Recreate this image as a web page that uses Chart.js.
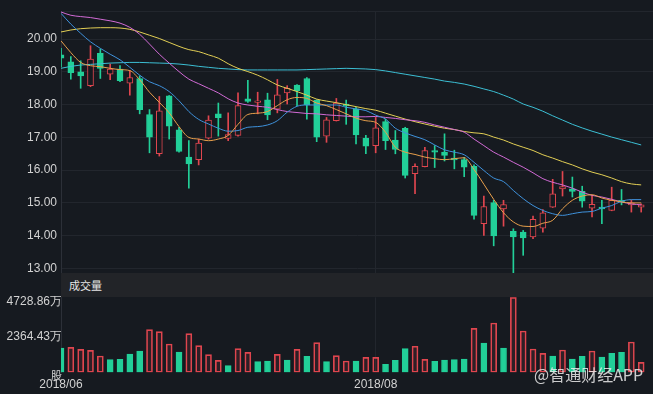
<!DOCTYPE html>
<html><head><meta charset="utf-8">
<script src="https://cdn.jsdelivr.net/npm/chart.js@4/dist/chart.umd.min.js"></script>
<style>
html,body{margin:0;padding:0;background:#161a20;width:653px;height:394px;overflow:hidden}
#main{position:absolute;left:0;top:0}
#vol{position:absolute;left:0;top:273px}
#band{position:absolute;left:61px;top:273px;width:592px;height:24px;background:#222428;color:#e6e6e6;font:11px 'Noto Sans CJK SC',sans-serif;line-height:24px;padding-left:8px;box-sizing:border-box}
#unit{position:absolute;left:50px;top:367px;width:12px;color:#d4d4d4;font:11px 'Noto Sans CJK SC',sans-serif;text-align:right}
#wm{position:absolute;left:534px;top:362px;color:rgba(236,236,236,0.85);font:16px 'Noto Sans CJK SC',sans-serif;z-index:5}
</style></head>
<body>
<canvas id="main" width="653" height="273"></canvas>
<canvas id="vol" width="653" height="121"></canvas>
<div id="band">成交量</div>
<div id="unit">股</div>
<div id="wm">@智通财经APP</div>
<script>
const dates = ['06-15','06-19','06-20','06-21','06-22','06-25','06-26','06-27','06-28','06-29',
 '07-02','07-03','07-04','07-05','07-06','07-09','07-10','07-11','07-12','07-13',
 '07-16','07-17','07-18','07-19','07-20','07-23','07-24','07-25','07-26','07-27',
 '07-30','07-31','08-01','08-02','08-03','08-06','08-07','08-08','08-09','08-10',
 '08-13','08-14','08-15','08-16','08-17','08-20','08-21','08-22','08-23','08-24',
 '08-27','08-28','08-29','08-30','08-31','09-03','09-04','09-05','09-06','09-07'];
const tickIdx = [0, 32];
const tickLabels = ['2018/06', '2018/08'];
const priceTicks = [13, 14, 15, 16, 17, 18, 19, 20];
const volTicks = [2364.43, 4728.86];

const open  = [19.52,19.31,19.00,18.58,19.57,18.93,19.09,18.66,18.80,17.70,16.50,18.27,17.23,16.40,16.32,16.98,17.72,16.97,17.06,18.18,
               18.07,18.15,17.86,18.36,18.60,18.80,18.14,17.04,17.51,18.02,17.87,16.98,16.75,17.48,16.92,17.28,15.89,16.11,16.60,16.55,
               16.37,16.32,16.12,14.37,15.01,14.82,14.13,14.11,13.96,14.23,14.87,15.43,15.43,15.35,14.84,14.87,14.77,15.08,14.94,14.87];
const high  = [19.72,19.47,19.34,19.80,19.70,19.24,19.19,19.04,18.88,17.85,18.25,18.28,17.31,16.90,16.95,17.66,18.05,17.75,18.36,18.74,
               18.38,18.35,18.77,18.58,18.61,18.83,18.15,17.61,18.19,18.14,17.92,17.06,17.61,17.56,17.21,17.31,16.19,16.70,16.75,17.11,
               16.61,16.39,16.16,15.21,15.08,15.08,14.21,14.16,14.60,14.80,15.72,15.96,15.79,15.51,15.23,15.08,15.48,15.41,15.09,14.97];
const low   = [19.15,18.78,18.50,18.55,18.80,18.76,18.70,18.29,17.72,16.53,16.43,16.95,16.55,15.45,16.16,16.95,17.04,16.90,17.04,18.07,
               17.72,17.54,17.75,18.02,17.97,17.56,16.87,16.85,17.50,17.40,16.80,16.50,16.53,16.63,16.50,15.76,15.28,16.10,16.08,16.28,
               16.04,15.80,14.50,14.01,13.69,14.29,12.87,13.40,13.91,14.11,14.86,15.21,15.18,14.87,14.57,14.37,14.76,14.94,14.72,14.72];
const close = [19.42,18.98,18.88,19.39,19.11,19.09,18.73,18.83,17.85,17.01,17.81,17.34,16.57,16.19,16.83,17.53,17.60,17.09,17.97,18.10,
               18.12,17.69,18.30,18.50,18.43,17.99,17.01,17.54,18.05,17.97,17.08,16.73,17.29,16.90,16.63,15.84,16.12,16.60,16.55,16.45,
               16.31,16.09,14.62,14.89,13.99,14.95,13.96,13.93,14.50,14.70,15.28,15.50,15.35,15.05,14.96,14.82,15.08,15.03,15.00,14.94];

const ma5  = [19.95,19.59,19.29,19.19,19.16,19.11,19.07,19.04,18.76,18.38,18.07,17.75,17.33,17.00,16.95,16.90,16.95,17.06,17.40,17.70,
              17.74,17.79,17.97,18.15,18.22,18.19,18.05,17.97,17.85,17.72,17.59,17.51,17.46,17.16,16.70,16.55,16.48,16.40,16.35,16.32,
              16.35,16.38,16.02,15.57,15.11,14.70,14.42,14.29,14.28,14.38,14.47,14.82,15.08,15.21,15.25,15.15,15.08,15.03,15.00,15.00];
const ma10 = [20.79,20.46,20.18,19.92,19.72,19.54,19.37,19.14,18.90,18.70,18.58,18.40,18.12,17.79,17.55,17.41,17.28,17.19,17.21,17.31,
              17.33,17.38,17.51,17.77,17.95,17.99,17.99,17.99,17.99,17.92,17.87,17.82,17.68,17.56,17.28,17.14,17.03,16.93,16.77,16.62,
              16.55,16.47,16.24,15.99,15.76,15.65,15.38,15.13,14.92,14.77,14.67,14.62,14.67,14.72,14.74,14.84,14.92,15.05,15.10,15.10];
const ma20 = [20.83,20.73,20.69,20.66,20.61,20.56,20.49,20.36,20.15,19.85,19.54,19.27,19.01,18.78,18.64,18.50,18.36,18.18,18.05,17.99,
              17.95,17.92,17.85,17.79,17.76,17.73,17.72,17.69,17.67,17.65,17.63,17.63,17.64,17.61,17.58,17.54,17.51,17.46,17.38,17.31,
              17.24,17.16,16.95,16.75,16.55,16.40,16.24,16.09,15.92,15.74,15.63,15.55,15.45,15.33,15.23,15.18,15.11,15.03,14.97,14.94];
const ma30 = [20.22,20.28,20.32,20.34,20.35,20.35,20.34,20.30,20.22,20.12,20.02,19.90,19.78,19.68,19.62,19.52,19.42,19.25,19.11,19.01,
              18.90,18.76,18.60,18.50,18.40,18.29,18.17,18.11,18.06,18.00,17.94,17.88,17.83,17.74,17.65,17.56,17.48,17.41,17.34,17.28,
              17.24,17.18,17.14,17.11,17.01,16.92,16.80,16.70,16.60,16.47,16.37,16.26,16.16,16.04,15.94,15.86,15.76,15.65,15.58,15.55];
const ma60 = [19.11,19.17,19.21,19.23,19.25,19.27,19.28,19.29,19.29,19.28,19.27,19.26,19.24,19.21,19.17,19.14,19.11,19.09,19.07,19.06,
              19.06,19.06,19.06,19.06,19.06,19.07,19.08,19.09,19.10,19.11,19.10,19.09,19.07,19.03,18.98,18.93,18.88,18.83,18.78,18.72,
              18.68,18.63,18.56,18.48,18.40,18.29,18.17,18.02,17.92,17.80,17.66,17.53,17.40,17.29,17.19,17.10,17.01,16.93,16.85,16.77];

const volume = [1620,1665,1532,1465,1088,844,866,1221,1421,2842,2708,1887,1354,2575,1776,1177,799,444,1576,1332,
                710,755,1199,821,1532,1066,1976,710,1110,755,755,999,999,533,799,1576,1732,866,733,821,
                844,888,2930,1954,3286,1621,4995,2753,1554,1265,1088,1487,888,1066,1421,1021,1265,1332,2020,666];
const volRed = [0,1,1,1,1,0,0,0,0,1, 1,1,0,1,1,1,1,0,1,1, 0,0,1,0,1,0,1,0,1,1,
                0,1,1,0,0,0,1,1,0,0, 0,0,1,0,1,0,1,1,1,1, 0,1,0,0,1,0,0,0,1,1];

const BG = '#161a20', GREEN = '#22cf98', RED = '#e0464f', GRID = '#22262d', AXIS = '#2c3038';
const FONT = {family: "'Liberation Sans', Arial, sans-serif", size: 12};
const XMAX = 60.2;

const candleUp = open.map((o, i) => close[i] >= o);
const candleColor = candleUp.map(u => u ? RED : GREEN);
const bodyFill = candleUp.map(u => u ? BG : GREEN);

function maSet(label, arr, color) {
  return {type: 'line', label, data: arr.map((v, i) => ({x: i, y: v})), borderColor: color,
    borderWidth: 1, pointRadius: 0, cubicInterpolationMode: 'monotone', fill: false, order: 0};
}
function noPad(s) { s.paddingTop = 0; s.paddingBottom = 0; }

new Chart(document.getElementById('main'), {
  type: 'bar',
  data: {datasets: [
    maSet('MA5', ma5, '#e9a04c'),
    maSet('MA10', ma10, '#3f92dc'),
    maSet('MA20', ma20, '#d26bd6'),
    maSet('MA30', ma30, '#e3cf55'),
    maSet('MA60', ma60, '#3cbfd4'),
    {label: 'body', data: open.map((o, i) => ({x: i, y: [o, close[i]]})), barThickness: 6, grouped: false,
     backgroundColor: bodyFill, borderColor: candleColor, borderWidth: 1, borderSkipped: false, minBarLength: 1, order: 1},
    {label: 'wick', data: low.map((l, i) => ({x: i, y: [l, high[i]]})), barThickness: 1, grouped: false,
     backgroundColor: candleColor, borderWidth: 0, order: 2}
  ]},
  options: {
    responsive: false, animation: false, devicePixelRatio: 1,
    layout: {padding: {top: 11, right: 0, bottom: 0, left: 0}},
    plugins: {legend: {display: false}, tooltip: {enabled: false}},
    scales: {
      x: {type: 'linear', min: 0, max: XMAX, offset: false,
          grid: {offset: false, color: GRID, drawTicks: false}, border: {display: false},
          ticks: {display: false},
          afterBuildTicks: s => { s.ticks = [{value: tickIdx[1]}]; },
          afterFit: s => { s.height = 0; s.paddingLeft = 0; s.paddingRight = 0; }},
      y: {type: 'linear', min: 12.86, max: 20.86, beginAtZero: false,
          grid: {color: GRID, drawTicks: false}, border: {display: true, color: AXIS},
          ticks: {color: '#d2d2d2', font: FONT, padding: 4,
                  callback: v => priceTicks.includes(v) ? v.toFixed(2) : ''},
          afterBuildTicks: s => { s.ticks = priceTicks.concat([20.86]).map(v => ({value: v})); },
          afterFit: s => { s.width = 61; noPad(s); }}
    }
  }
});

new Chart(document.getElementById('vol'), {
  type: 'bar',
  data: {datasets: [
    {label: 'volume', data: volume.map((v, i) => ({x: i, y: v})), barThickness: 6, grouped: false,
     backgroundColor: volRed.map(r => r ? 'rgba(224,70,79,0.12)' : GREEN),
     borderColor: volRed.map(r => r ? RED : GREEN), borderWidth: 1, borderSkipped: false}
  ]},
  options: {
    responsive: false, animation: false, devicePixelRatio: 1,
    layout: {padding: {top: 24.3, right: 0, bottom: 0, left: 0}},
    plugins: {legend: {display: false}, tooltip: {enabled: false}},
    scales: {
      x: {type: 'linear', min: 0, max: XMAX, offset: false,
          grid: {offset: false, color: GRID, drawTicks: false}, border: {display: false},
          ticks: {color: '#d2d2d2', font: FONT, padding: 5, autoSkip: false, maxRotation: 0,
                  callback: v => { const k = tickIdx.indexOf(v); return k >= 0 ? tickLabels[k] : ''; }},
          afterBuildTicks: s => { s.ticks = tickIdx.map(v => ({value: v})); },
          afterFit: s => { s.height = 21.7; s.paddingLeft = 0; s.paddingRight = 0; }},
      y: {type: 'linear', min: 0, max: Math.max(...volume),
          grid: {display: false, drawTicks: false}, border: {display: true, color: AXIS},
          ticks: {color: '#d2d2d2', font: FONT, padding: -1,
                  callback: v => volTicks.includes(v) ? v.toFixed(2) + '万' : ''},
          afterBuildTicks: s => { s.ticks = volTicks.map(v => ({value: v})); },
          afterFit: s => { s.width = 61; noPad(s); }}
    }
  }
});
</script>
</body></html>
